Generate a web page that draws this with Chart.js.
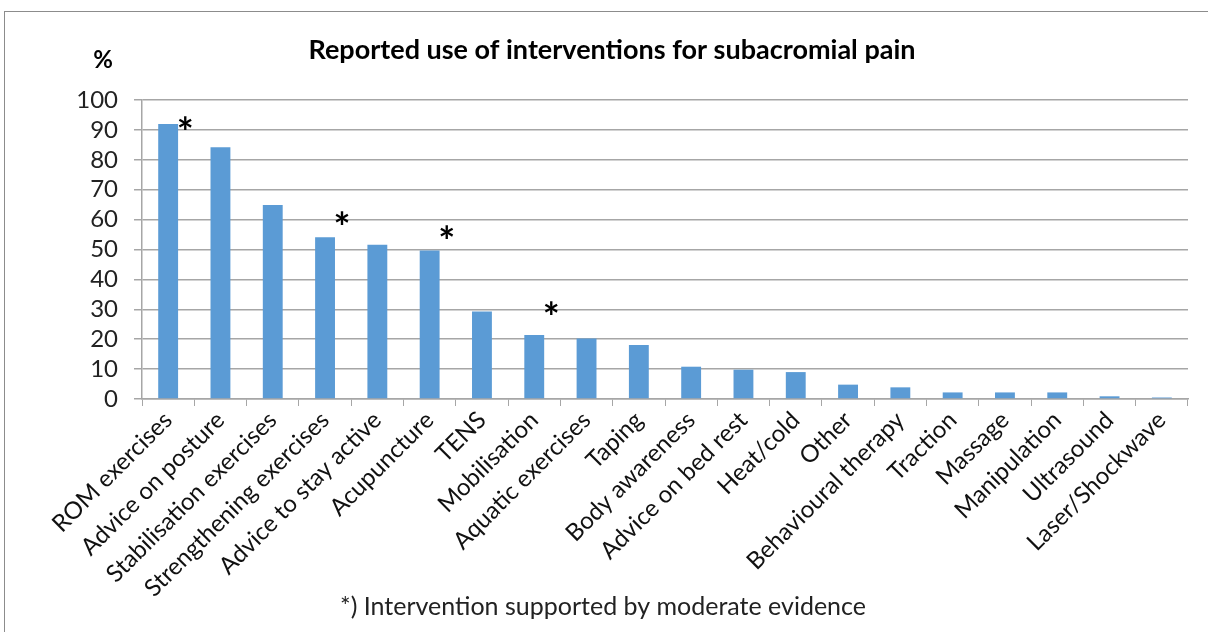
<!DOCTYPE html>
<html>
<head>
<meta charset="utf-8">
<script src="https://cdn.jsdelivr.net/npm/chart.js@4.4.0/dist/chart.umd.min.js"></script>
<style>
    html, body { margin: 0; padding: 0; background: #fff; }
    #wrap { position: relative; width: 1208px; height: 632px; }
    #frame { position: absolute; left: 4px; top: 11px; width: 1210px; height: 640px; border: 1px solid #8c8c8c; box-sizing: border-box; }
    canvas { position: absolute; left: 0; top: 0; }
</style>
</head>
<body>
<div id="wrap">
    <div id="frame"></div>
    <canvas id="chart" width="1208" height="632"></canvas>
</div>
<script>
// 항목
var interventions = [
    'ROM exercises', 'Advice on posture', 'Stabilisation exercises', 'Strengthening exercises',
    'Advice to stay active', 'Acupuncture', 'TENS', 'Mobilisation', 'Aquatic exercises', 'Taping',
    'Body awareness', 'Advice on bed rest', 'Heat/cold', 'Other', 'Behavioural therapy',
    'Traction', 'Massage', 'Manipulation', 'Ultrasound', 'Laser/Shockwave'
];
// 사용 비율 (%)
var usePercent = [92, 84.2, 64.9, 54.1, 51.6, 49.7, 29.3, 21.4, 20.2, 18.1,
                  10.8, 9.8, 9.0, 4.8, 3.9, 2.2, 2.2, 2.2, 0.9, 0.5];
// 근거 표시(*) 높이 - 없으면 null
var evidenceMark = [91.6, null, null, 59.8, null, 55.1, null, 29.7, null, null,
                    null, null, null, null, null, null, null, null, null, null];
var yTicks = [0, 10, 20, 30, 40, 50, 60, 70, 80, 90, 100];

var FONT = 'Lato, "Open Sans", sans-serif';

// 별표 + 제목 + 각주 그리기
const extraText = {
    id: 'extraText',
    afterDatasetsDraw(chart) {
        const ctx = chart.ctx;
        const xs = chart.scales.x, ys = chart.scales.y;
        ctx.save();
        ctx.fillStyle = '#000';
        ctx.font = 'bold 40px ' + FONT;
        ctx.textAlign = 'center';
        ctx.textBaseline = 'middle';
        evidenceMark.forEach(function(v, i) {
            if (v === null) return;
            ctx.fillText('*', xs.getPixelForValue(i) + 17, ys.getPixelForValue(v) + 9);
        });
        ctx.font = 'bold 27px ' + FONT;
        ctx.fillText('Reported use of interventions for subacromial pain', 612, 50);
        ctx.font = 'bold 24px ' + FONT;
        ctx.fillText('%', 103, 60);
        ctx.font = '25px ' + FONT;
        ctx.fillStyle = '#222';
        ctx.fillText('*) Intervention supported by moderate evidence', 603, 607);
        ctx.restore();
    }
};

var ctx = document.getElementById('chart').getContext('2d');
var myChart = new Chart(ctx, {
    type: 'bar',
    data: {
        labels: interventions,
        datasets: [{
            data: usePercent,
            backgroundColor: '#5B9BD5',
            borderColor: '#5B9BD5',
            borderWidth: 0,
            barPercentage: 0.38,
            categoryPercentage: 1.0
        }]
    },
    options: {
        responsive: false,
        animation: false,
        layout: { padding: { top: 100, right: 20, left: 0, bottom: 0 } },
        plugins: {
            legend: { display: false },
            tooltip: { enabled: false }
        },
        scales: {
            x: {
                afterFit: function(scale) { scale.height = 233; },
                grid: {
                    offset: true,
                    drawOnChartArea: false,
                    drawTicks: true,
                    tickLength: 7,
                    color: '#a6a6a6'
                },
                border: { display: true, color: '#a6a6a6', width: 1.5 },
                ticks: {
                    autoSkip: false,
                    maxRotation: 45,
                    minRotation: 45,
                    color: '#111',
                    font: { family: FONT, size: 24 },
                    padding: 0
                }
            },
            y: {
                min: 0,
                max: 100,
                afterFit: function(scale) { scale.width = 142; },
                afterBuildTicks: function(scale) {
                    scale.ticks = yTicks.map(function(v) { return { value: v }; });
                },
                grid: {
                    color: '#a6a6a6',
                    lineWidth: 1.5,
                    drawTicks: true,
                    tickLength: 8
                },
                border: { display: true, color: '#a6a6a6', width: 1.5 },
                ticks: {
                    autoSkip: false,
                    stepSize: 10,
                    color: '#222',
                    font: { family: FONT, size: 24 },
                    padding: 16
                }
            }
        }
    },
    plugins: [extraText]
});
</script>
</body>
</html>
